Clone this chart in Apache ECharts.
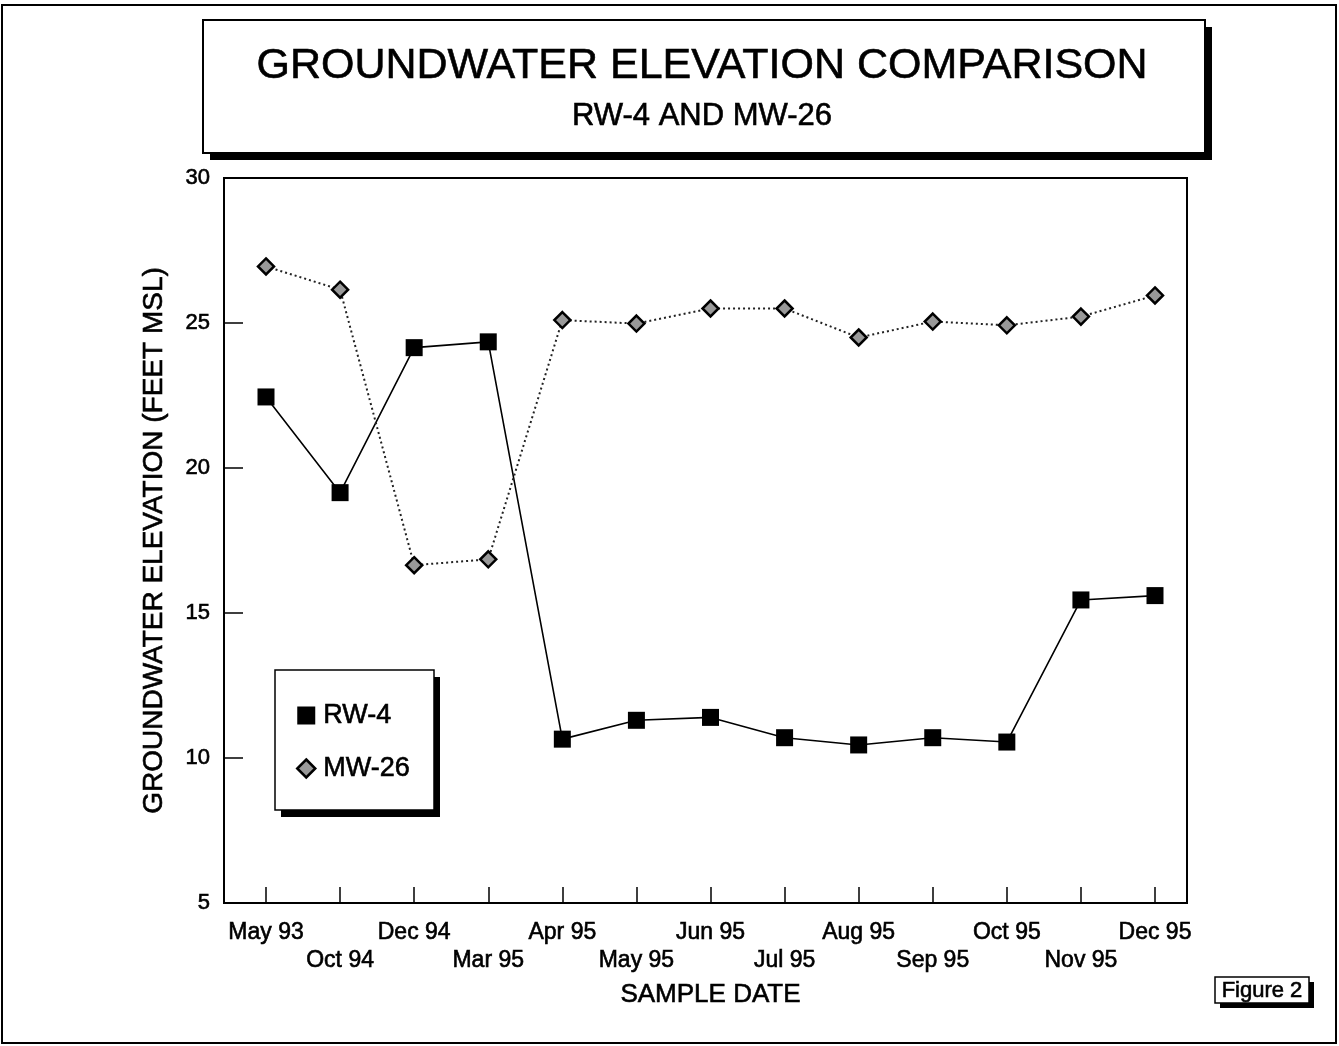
<!DOCTYPE html>
<html>
<head>
<meta charset="utf-8">
<script src="https://cdn.jsdelivr.net/npm/echarts@6/dist/echarts.min.js"></script>
<style>
html,body{margin:0;padding:0;background:#fff;}
#c{width:1339px;height:1046px;}
</style>
</head>
<body>
<div id="c"></div>
<script>
const categories = ['May 93','Oct 94','Dec 94','Mar 95','Apr 95','May 95','Jun 95','Jul 95','Aug 95','Sep 95','Oct 95','Nov 95','Dec 95'];
const rw4 = [22.45, 19.15, 24.15, 24.35, 10.65, 11.3, 11.4, 10.7, 10.45, 10.7, 10.55, 15.45, 15.6];
const mw26 = [26.95, 26.15, 16.65, 16.85, 25.1, 24.98, 25.5, 25.5, 24.5, 25.05, 24.92, 25.22, 25.95];
const yTicks = {min: 5, max: 30, step: 5};
const titleText = 'GROUNDWATER ELEVATION COMPARISON';
const subtitleText = 'RW-4 AND MW-26';
const yName = 'GROUNDWATER ELEVATION (FEET MSL)';
const xName = 'SAMPLE DATE';
const figLabel = 'Figure 2';

const FONT = '"Liberation Sans", Arial, Helvetica, sans-serif';
const TB = {textBorderColor: '#000', textBorderWidth: 0.6};
const chart = echarts.init(document.getElementById('c'), null, {renderer: 'canvas'});

chart.setOption({
  backgroundColor: '#fff',
  animation: false,
  textStyle: {fontFamily: FONT, color: '#000'},
  title: [
    {text: titleText, left: 702, top: 45, textAlign: 'center', padding: 0,
     textStyle: Object.assign({fontFamily: FONT, fontSize: 43, fontWeight: 'normal', color: '#000'}, TB)},
    {text: subtitleText, left: 702, top: 101, textAlign: 'center', padding: 0,
     textStyle: Object.assign({fontFamily: FONT, fontSize: 31, fontWeight: 'normal', color: '#000'}, TB)}
  ],
  grid: {left: 266, right: 1339 - 1155, top: 178, bottom: 1046 - 903, containLabel: false},
  legend: {
    orient: 'vertical', left: 296, top: 701, itemGap: 24, itemWidth: 18, itemHeight: 18,
    padding: 0, z: 10,
    textStyle: Object.assign({fontFamily: FONT, fontSize: 27, color: '#000', lineHeight: 29, padding: [0,0,0,3]}, TB),
    data: [
      {name: 'RW-4', icon: 'rect', itemStyle: {color: '#000', borderWidth: 0}},
      {name: 'MW-26', icon: 'diamond', itemStyle: {color: '#999', borderColor: '#000', borderWidth: 2.5}}
    ]
  },
  xAxis: {
    type: 'category', data: categories, boundaryGap: false,
    axisLine: {show: false},
    axisTick: {show: true, inside: true, length: 16, interval: 0, lineStyle: {color: '#000', width: 1.5}},
    axisLabel: Object.assign({interval: 0, fontFamily: FONT, fontSize: 23, color: '#000', margin: 16, lineHeight: 28,
      formatter: function (v, i) { return i % 2 ? '\n' + v : v; }}, TB),
    splitLine: {show: false},
    name: xName, nameLocation: 'middle', nameGap: 79,
    nameTextStyle: Object.assign({fontFamily: FONT, fontSize: 26, color: '#000'}, TB)
  },
  yAxis: {
    type: 'value', min: yTicks.min, max: yTicks.max, interval: yTicks.step, offset: 41,
    axisLine: {show: false},
    axisTick: {show: true, inside: true, length: 18, lineStyle: {color: '#000', width: 1.5}},
    axisLabel: Object.assign({fontFamily: FONT, fontSize: 22, color: '#000', margin: 15}, TB),
    splitLine: {show: false},
    name: yName, nameLocation: 'middle', nameGap: 57, nameRotate: 90,
    nameTextStyle: Object.assign({fontFamily: FONT, fontSize: 28, color: '#000'}, TB)
  },
  graphic: [
    {type: 'rect', z: 0, shape: {x: 2, y: 5, width: 1334, height: 1038}, style: {fill: 'none', stroke: '#000', lineWidth: 2}},
    {type: 'rect', z: 0, shape: {x: 210, y: 27, width: 1002, height: 133}, style: {fill: '#000'}},
    {type: 'rect', z: 1, shape: {x: 203, y: 20, width: 1002, height: 133}, style: {fill: '#fff', stroke: '#000', lineWidth: 2}},
    {type: 'rect', z: 1, shape: {x: 224, y: 178, width: 963, height: 725}, style: {fill: 'none', stroke: '#000', lineWidth: 2}},
    {type: 'rect', z: 5, shape: {x: 281, y: 677, width: 159, height: 140}, style: {fill: '#000'}},
    {type: 'rect', z: 6, shape: {x: 275, y: 670, width: 159, height: 140}, style: {fill: '#fff', stroke: '#000', lineWidth: 1.5}},
    {type: 'rect', z: 5, shape: {x: 1220, y: 982, width: 94, height: 26}, style: {fill: '#000'}},
    {type: 'rect', z: 6, shape: {x: 1215, y: 977, width: 94, height: 26}, style: {fill: '#fff', stroke: '#000', lineWidth: 1.5}},
    {type: 'text', z: 7, style: {x: 1262, y: 990.5, text: figLabel, textAlign: 'center', textVerticalAlign: 'middle',
      font: '22px ' + FONT, fill: '#000', stroke: '#000', lineWidth: 0.6}}
  ],
  series: [
    {name: 'RW-4', type: 'line', data: rw4, symbol: 'rect', symbolSize: 17, z: 3,
     itemStyle: {color: '#000'}, lineStyle: {color: '#000', width: 1.6}},
    {name: 'MW-26', type: 'line', data: mw26, symbol: 'diamond', symbolSize: 16, z: 4,
     itemStyle: {color: '#999', borderColor: '#000', borderWidth: 2.5},
     lineStyle: {color: '#222', width: 2, type: [2, 3]}}
  ]
});
</script>
</body>
</html>
